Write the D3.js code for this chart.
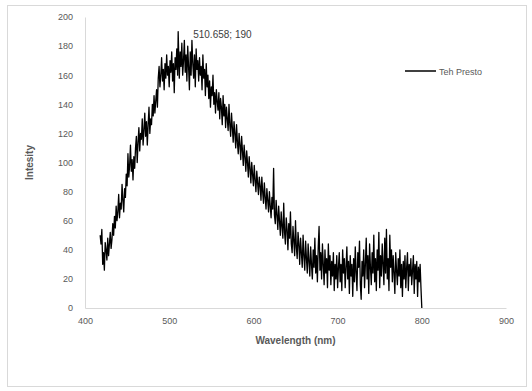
<!DOCTYPE html>
<html>
<head>
<meta charset="utf-8">
<script src="https://cdn.jsdelivr.net/npm/d3@7/dist/d3.min.js"></script>
<style>
  body { margin: 0; background: #fff; }
  text { font-family: "Liberation Sans", Arial, sans-serif; }
</style>
</head>
<body>
<div id="chart"></div>
<script>
// wavelength samples (nm) and intensity readings
const wavelengths = [
  418, 419, 420, 421, 422, 423, 424, 425, 426, 427,
  428, 429, 430, 431, 432, 433, 434, 435, 436, 437,
  438, 439, 440, 441, 442, 443, 444, 445, 446, 447,
  448, 449, 450, 451, 452, 453, 454, 455, 456, 457,
  458, 459, 460, 461, 462, 463, 464, 465, 466, 467,
  468, 469, 470, 471, 472, 473, 474, 475, 476, 477,
  478, 479, 480, 481, 482, 483, 484, 485, 486, 487,
  488, 489, 490, 491, 492, 493, 494, 495, 496, 497,
  498, 499, 500, 501, 502, 503, 504, 505, 506, 507,
  508, 509, 510, 510.658, 512, 513, 514, 515, 516, 517,
  518, 519, 520, 521, 522, 523, 524, 525, 526, 527,
  528, 529, 530, 531, 532, 533, 534, 535, 536, 537,
  538, 539, 540, 541, 542, 543, 544, 545, 546, 547,
  548, 549, 550, 551, 552, 553, 554, 555, 556, 557,
  558, 559, 560, 561, 562, 563, 564, 565, 566, 567,
  568, 569, 570, 571, 572, 573, 574, 575, 576, 577,
  578, 579, 580, 581, 582, 583, 584, 585, 586, 587,
  588, 589, 590, 591, 592, 593, 594, 595, 596, 597,
  598, 599, 600, 601, 602, 603, 604, 605, 606, 607,
  608, 609, 610, 611, 612, 613, 614, 615, 616, 617,
  618, 619, 620, 621, 622, 623, 624, 625, 626, 627,
  628, 629, 630, 631, 632, 633, 634, 635, 636, 637,
  638, 639, 640, 641, 642, 643, 644, 645, 646, 647,
  648, 649, 650, 651, 652, 653, 654, 655, 656, 657,
  658, 659, 660, 661, 662, 663, 664, 665, 666, 667,
  668, 669, 670, 671, 672, 673, 674, 675, 676, 677,
  678, 679, 680, 681, 682, 683, 684, 685, 686, 687,
  688, 689, 690, 691, 692, 693, 694, 695, 696, 697,
  698, 699, 700, 701, 702, 703, 704, 705, 706, 707,
  708, 709, 710, 711, 712, 713, 714, 715, 716, 717,
  718, 719, 720, 721, 722, 723, 724, 725, 726, 727,
  728, 729, 730, 731, 732, 733, 734, 735, 736, 737,
  738, 739, 740, 741, 742, 743, 744, 745, 746, 747,
  748, 749, 750, 751, 752, 753, 754, 755, 756, 757,
  758, 759, 760, 761, 762, 763, 764, 765, 766, 767,
  768, 769, 770, 771, 772, 773, 774, 775, 776, 777,
  778, 779, 780, 781, 782, 783, 784, 785, 786, 787,
  788, 789, 790, 791, 792, 793, 794, 795, 796, 797,
  798, 799, 800
];
const intensity = [
  50, 44, 54, 30, 38, 26, 45, 40, 33, 48,
  36, 44, 52, 41, 47, 58, 50, 63, 55, 70,
  60, 66, 78, 62, 72, 68, 85, 74, 66, 82,
  76, 92, 84, 106, 90, 98, 112, 94, 102, 88,
  104, 96, 110, 118, 100, 114, 124, 108, 120, 116,
  130, 112, 122, 134, 118, 128, 112, 126, 138, 120,
  130, 126, 140, 132, 146, 134, 142, 150, 138, 158,
  166, 152, 160, 172, 156, 164, 150, 168, 158, 174,
  160, 166, 152, 170, 162, 176, 156, 168, 148, 172,
  164, 178, 160, 190, 158, 176, 166, 182, 160, 170,
  184, 162, 174, 156, 180, 166, 150, 176, 160, 184,
  168, 158, 174, 152, 178, 164, 170, 156, 172, 160,
  166, 150, 174, 158, 164, 146, 168, 152, 160, 144,
  156, 138, 152, 146, 160, 140, 148, 134, 150, 142,
  136, 148, 130, 144, 138, 126, 146, 132, 140, 124,
  138, 130, 122, 140, 126, 118, 134, 124, 114, 128,
  120, 110, 126, 114, 106, 120, 112, 102, 118, 108,
  98, 112, 104, 94, 108, 100, 90, 104, 96, 86,
  100, 92, 84, 98, 88, 80, 94, 86, 78, 90,
  84, 74, 90, 80, 72, 86, 76, 68, 82, 74,
  66, 80, 70, 62, 76, 68, 96, 64, 58, 74,
  64, 54, 70, 60, 50, 66, 56, 48, 72, 52,
  44, 62, 54, 40, 58, 48, 66, 44, 38, 56,
  46, 36, 60, 42, 34, 52, 44, 30, 48, 38,
  28, 50, 36, 26, 46, 34, 24, 44, 32, 22,
  42, 30, 20, 40, 28, 48, 24, 36, 18, 42,
  56, 26, 38, 20, 44, 30, 16, 40, 24, 34,
  14, 44, 26, 36, 16, 32, 22, 38, 12, 30,
  20, 36, 14, 28, 38, 18, 30, 12, 40, 24,
  34, 14, 28, 42, 20, 32, 10, 36, 22, 30,
  8, 34, 18, 42, 24, 12, 38, 28, 46, 16,
  6, 32, 22, 40, 14, 30, 48, 20, 36, 10,
  44, 28, 16, 38, 24, 50, 18, 34, 12, 40,
  26, 52, 14, 36, 22, 44, 30, 16, 48, 24,
  54, 20, 34, 12, 50, 28, 40, 18, 36, 24,
  10, 38, 26, 16, 34, 22, 40, 14, 30, 8,
  32, 20, 36, 14, 28, 38, 12, 30, 22, 34,
  16, 26, 36, 10, 30, 20, 32, 8, 28, 18,
  30, 14, 0
];
const xTicks = [400, 500, 600, 700, 800, 900];
const yTicks = [0, 20, 40, 60, 80, 100, 120, 140, 160, 180, 200];
const seriesName = 'Teh Presto';
const peakLabel = '510.658; 190';

const width = 532, height = 391;
const margin = { top: 17, right: 26, bottom: 83, left: 85 };

const svg = d3.select('#chart').append('svg')
    .attr('width', width)
    .attr('height', height);

// chart frame
svg.append('rect')
    .attr('x', 7.5).attr('y', 5.5)
    .attr('width', 519).attr('height', 381)
    .attr('fill', '#fff')
    .attr('stroke', '#d9d9d9');

const x = d3.scaleLinear()
    .domain([400, 900])
    .range([margin.left, width - margin.right]);

const y = d3.scaleLinear()
    .domain([0, 200])
    .range([height - margin.bottom, margin.top]);

// axes, Excel style: no tick marks, light grey lines
const xAxis = svg.append('g')
    .attr('transform', `translate(0,${y(0)})`)
    .call(d3.axisBottom(x).tickValues(xTicks).tickSize(0).tickPadding(10));

const yAxis = svg.append('g')
    .attr('transform', `translate(${x(400)},0)`)
    .call(d3.axisLeft(y).tickValues(yTicks).tickSize(0).tickPadding(12));

[xAxis, yAxis].forEach(function (g) {
    g.select('.domain').attr('stroke', '#d9d9d9');
    g.selectAll('text')
        .attr('fill', '#595959')
        .style('font-size', '9px');
});

// spectrum line
const line = d3.line()
    .x((d, i) => x(wavelengths[i]))
    .y(d => y(d));

svg.append('path')
    .datum(intensity)
    .attr('fill', 'none')
    .attr('stroke', '#000')
    .attr('stroke-width', 1.3)
    .attr('stroke-linejoin', 'round')
    .attr('d', line);

// peak annotation
const peakIndex = d3.maxIndex(intensity);
svg.append('text')
    .attr('x', x(wavelengths[peakIndex]) + 15)
    .attr('y', y(intensity[peakIndex]) + 6)
    .attr('fill', '#404040')
    .style('font-size', '10px')
    .text(peakLabel);

// axis titles
svg.append('text')
    .attr('x', (x(400) + x(900)) / 2)
    .attr('y', 344)
    .attr('text-anchor', 'middle')
    .attr('fill', '#595959')
    .style('font-size', '10px')
    .style('font-weight', 'bold')
    .text('Wavelength (nm)');

svg.append('text')
    .attr('transform', `translate(33,${(y(0) + y(200)) / 2}) rotate(-90)`)
    .attr('text-anchor', 'middle')
    .attr('fill', '#595959')
    .style('font-size', '10px')
    .style('font-weight', 'bold')
    .text('Intesity');

// legend
const legend = svg.append('g').attr('transform', 'translate(405,71)');
legend.append('line')
    .attr('x1', 0).attr('x2', 31)
    .attr('stroke', '#000')
    .attr('stroke-width', 1.5);
legend.append('text')
    .attr('x', 34)
    .attr('y', 3.5)
    .attr('fill', '#595959')
    .style('font-size', '9px')
    .text(seriesName);
</script>
</body>
</html>
